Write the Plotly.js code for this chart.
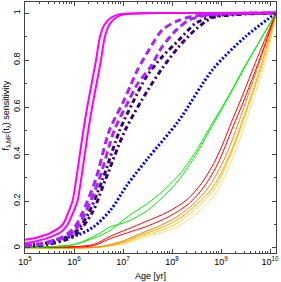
<!DOCTYPE html>
<html>
<head>
<meta charset="utf-8">
<script src="https://cdn.plot.ly/plotly-3.0.1.min.js"></script>
<style>html,body{margin:0;padding:0;background:#fff}#plot{width:281px;height:282px}</style>
</head>
<body>
<div id="plot"></div>
<script>
// log10(age/yr) and sensitivity values
const magentaA_logAge = [5, 5.25, 5.5, 5.77, 5.88, 5.97, 6.05, 6.12, 6.19, 6.27, 6.36, 6.45, 6.53, 6.62, 6.75, 6.9, 7.2, 7.6, 10.12];
const magentaA_val    = [0.035, 0.045, 0.062, 0.1, 0.15, 0.2, 0.3, 0.4, 0.5, 0.6, 0.7, 0.8, 0.9, 0.95, 0.98, 0.993, 0.998, 1.0, 1.0];
const magentaB_logAge = [5, 5.25, 5.5, 5.75, 5.87, 5.98, 6.07, 6.15, 6.22, 6.29, 6.37, 6.46, 6.55, 6.63, 6.72, 6.85, 7.0, 7.3, 7.7, 10.12];
const magentaB_val    = [0.02, 0.03, 0.045, 0.07, 0.1, 0.15, 0.2, 0.3, 0.4, 0.5, 0.6, 0.7, 0.8, 0.9, 0.95, 0.98, 0.993, 0.998, 1.0, 1.0];

const violetA_logAge = [5, 5.25, 5.5, 5.75, 6.0, 6.17, 6.44, 6.72, 7.0, 7.15, 7.3, 7.52, 7.8, 8.1, 8.4, 9.0, 10.12];
const violetA_val    = [0.01, 0.015, 0.028, 0.045, 0.085, 0.15, 0.29, 0.5, 0.62, 0.69, 0.76, 0.84, 0.928, 0.965, 0.985, 0.997, 1.0];
const violetB_logAge = [5, 5.5, 5.75, 6.0, 6.23, 6.51, 6.82, 7.1, 7.3, 7.56, 7.8, 8.1, 8.34, 8.7, 9.2, 10.12];
const violetB_val    = [0.008, 0.022, 0.04, 0.07, 0.15, 0.29, 0.5, 0.62, 0.7, 0.77, 0.857, 0.93, 0.97, 0.99, 0.997, 1.0];

const indigoA_logAge = [5, 5.5, 5.75, 6.07, 6.3, 6.58, 6.93, 7.2, 7.48, 7.8, 8.14, 8.48, 8.82, 9.3, 10.12];
const indigoA_val    = [0.008, 0.02, 0.035, 0.077, 0.15, 0.29, 0.5, 0.62, 0.73, 0.814, 0.885, 0.956, 0.985, 0.996, 1.0];
const indigoB_logAge = [5, 5.5, 6.0, 6.37, 6.64, 7.04, 7.5, 7.8, 8.14, 8.48, 8.82, 9.3, 10.12];
const indigoB_val    = [0.006, 0.017, 0.05, 0.15, 0.29, 0.5, 0.67, 0.765, 0.857, 0.93, 0.98, 0.993, 1.0];

const blue_logAge = [5, 5.5, 5.72, 6.07, 6.4, 6.74, 7.09, 7.5, 8.13, 8.83, 9.5, 10.12];
const blue_val    = [0.01, 0.025, 0.04, 0.055, 0.09, 0.16, 0.27, 0.38, 0.54, 0.76, 0.9, 1.0];

const greenA_logAge = [5, 5.5, 6.0, 6.5, 6.74, 7.09, 7.5, 7.8, 8.14, 8.48, 8.82, 9.16, 9.5, 9.84, 10.12];
const greenA_val    = [0.004, 0.006, 0.015, 0.05, 0.075, 0.133, 0.19, 0.24, 0.31, 0.41, 0.53, 0.65, 0.78, 0.9, 1.0];
const greenB_logAge = [5, 5.5, 6.0, 6.5, 6.74, 7.09, 7.5, 7.8, 8.14, 8.48, 8.82, 9.16, 9.5, 9.84, 10.12];
const greenB_val    = [0.003, 0.005, 0.014, 0.06, 0.09, 0.112, 0.16, 0.215, 0.29, 0.395, 0.52, 0.645, 0.775, 0.9, 1.0];

const redA_logAge = [5, 6.0, 6.4, 6.74, 7.09, 7.46, 7.9, 8.3, 8.6, 8.85, 9.03, 9.2, 9.4, 9.74, 10.12];
const redA_val    = [0.004, 0.006, 0.015, 0.05, 0.08, 0.112, 0.152, 0.205, 0.275, 0.36, 0.44, 0.53, 0.63, 0.81, 1.0];
const redB_logAge = [5, 6.0, 6.4, 6.74, 7.09, 7.46, 7.95, 8.35, 8.65, 8.9, 9.08, 9.25, 9.45, 9.78, 10.12];
const redB_val    = [0.002, 0.004, 0.01, 0.04, 0.065, 0.09, 0.135, 0.19, 0.26, 0.345, 0.43, 0.52, 0.62, 0.8, 1.0];

const orangeA_logAge = [5, 6.5, 7.0, 7.36, 7.7, 8.1, 8.45, 8.75, 9.0, 9.19, 9.4, 9.6, 9.85, 10.12];
const orangeA_val    = [0.002, 0.005, 0.03, 0.062, 0.09, 0.133, 0.19, 0.26, 0.35, 0.44, 0.56, 0.68, 0.83, 1.0];
const orangeB_logAge = [5, 6.5, 7.0, 7.36, 7.83, 8.2, 8.5, 8.82, 9.05, 9.24, 9.45, 9.65, 9.88, 10.12];
const orangeB_val    = [0.001, 0.004, 0.025, 0.055, 0.09, 0.133, 0.185, 0.255, 0.34, 0.43, 0.55, 0.67, 0.82, 1.0];

const goldA_logAge = [5, 6.5, 7.0, 7.36, 7.97, 8.3, 8.6, 8.89, 9.1, 9.3, 9.5, 9.7, 9.92, 10.12];
const goldA_val    = [0.0, 0.003, 0.02, 0.048, 0.09, 0.135, 0.19, 0.26, 0.35, 0.45, 0.57, 0.69, 0.83, 1.0];
const goldB_logAge = [5, 6.5, 7.0, 7.36, 8.05, 8.4, 8.7, 8.95, 9.15, 9.36, 9.56, 9.76, 9.95, 10.12];
const goldB_val    = [-0.002, 0.002, 0.017, 0.04, 0.085, 0.13, 0.185, 0.25, 0.34, 0.45, 0.57, 0.7, 0.83, 1.0];

const xTickVals = [1e5, 1e6, 1e7, 1e8, 1e9, 1e10];
const xTickText = ['10<sup>5</sup>', '10<sup>6</sup>', '10<sup>7</sup>', '10<sup>8</sup>', '10<sup>9</sup>', '10<sup>10</sup>'];
const yTickVals = [0, 0.2, 0.4, 0.6, 0.8, 1];
const yTickText = ['0', '0.2', '0.4', '0.6', '0.8', '1'];

function toAge(arr){ return arr.map(v => Math.pow(10, v)); }
function tr(la, v, color, width, dash){
  return {x: toAge(la), y: v, type: 'scatter', mode: 'lines',
    line: {color: color, width: width, dash: dash, shape: 'spline', smoothing: 0.8},
    hoverinfo: 'skip', showlegend: false};
}

const traces = [
  tr(goldB_logAge, goldB_val, '#ffe070', 1, 'solid'),
  tr(goldA_logAge, goldA_val, '#ffcc22', 1, 'solid'),
  tr(orangeB_logAge, orangeB_val, '#ffa000', 1, 'solid'),
  tr(orangeA_logAge, orangeA_val, '#ff8000', 1, 'solid'),
  tr(redB_logAge, redB_val, '#ff0000', 1, 'solid'),
  tr(redA_logAge, redA_val, '#ff0000', 1, 'solid'),
  tr(greenB_logAge, greenB_val, '#00ee00', 1, 'solid'),
  tr(greenA_logAge, greenA_val, '#00ee00', 1, 'solid'),
  tr(blue_logAge, blue_val, '#0000ff', 3, '2px,2px'),
  tr(indigoB_logAge, indigoB_val, '#330077', 3, '5px,3px,2px,3px'),
  tr(indigoA_logAge, indigoA_val, '#330077', 3, '5px,3px,2px,3px'),
  tr(violetB_logAge, violetB_val, '#aa22ff', 3, '7px,4px'),
  tr(violetA_logAge, violetA_val, '#aa22ff', 3, '7px,4px'),
  tr(magentaB_logAge, magentaB_val, '#ff00ff', 2, 'solid'),
  tr(magentaA_logAge, magentaA_val, '#ff00ff', 2, 'solid')
];

const fam = 'Liberation Sans, Arial, sans-serif';

const layout = {
  width: 281, height: 282,
  margin: {l: 25, r: 5, t: 2, b: 29, pad: 0},
  paper_bgcolor: '#fff', plot_bgcolor: '#fff',
  font: {family: fam, size: 9, color: '#000'},
  xaxis: {
    type: 'log', range: [5, 10.12],
    tickvals: xTickVals, ticktext: xTickText,
    ticks: 'inside', ticklen: 4, tickcolor: '#444', tickwidth: 1,
    minor: {ticks: 'inside', ticklen: 2, tickcolor: '#444', dtick: 'D1', showgrid: false},
    showline: true, linecolor: '#444', linewidth: 1, mirror: 'allticks',
    showgrid: false, zeroline: false,
    tickfont: {family: fam, size: 9, color: '#000'},
    title: {text: 'Age [yr]', font: {family: fam, size: 9, color: '#000'}, standoff: 6}
  },
  yaxis: {
    range: [-0.0213, 1.0468],
    tickvals: yTickVals, ticktext: yTickText,
    tickangle: -90,
    ticks: 'inside', ticklen: 4, tickcolor: '#444', tickwidth: 1,
    minor: {ticks: 'inside', ticklen: 2, tickcolor: '#444', dtick: 0.1, tick0: 0, showgrid: false},
    showline: true, linecolor: '#444', linewidth: 1, mirror: 'allticks',
    showgrid: false, zeroline: false,
    tickfont: {family: fam, size: 9, color: '#000'}
  },
  annotations: [{
    text: 'f<sub>λ,MF</sub>(t<sub>λ</sub>) sensitivity',
    xref: 'paper', yref: 'paper', x: -0.07, y: 0.55,
    xanchor: 'center', yanchor: 'middle', textangle: -90, showarrow: false,
    font: {family: fam, size: 9, color: '#000'}
  }]
};

Plotly.newPlot('plot', traces, layout, {staticPlot: true, displayModeBar: false});
</script>
</body>
</html>
